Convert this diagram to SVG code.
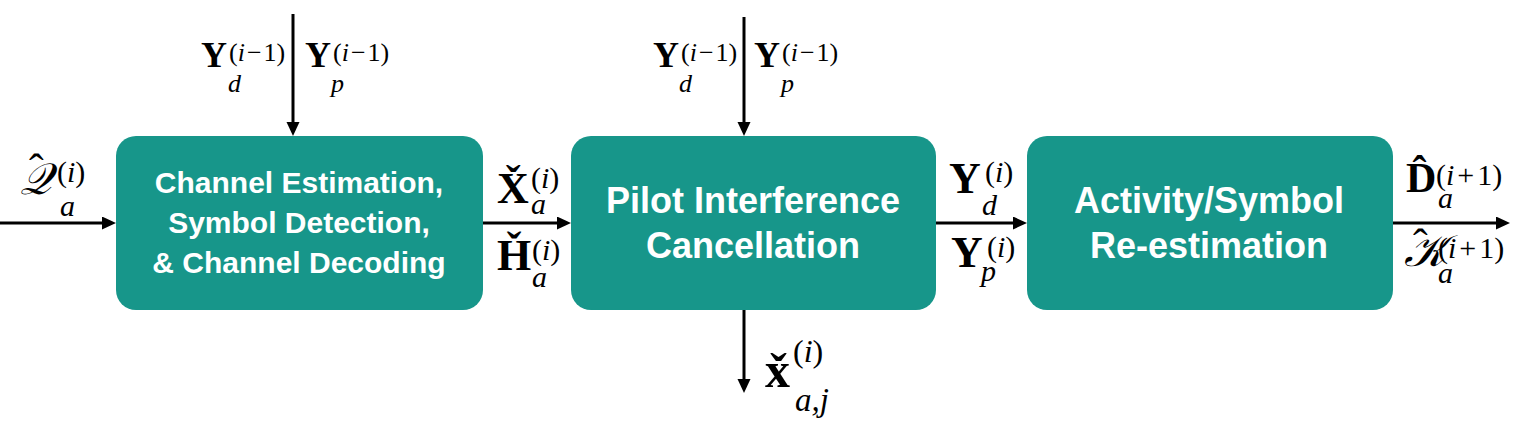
<svg xmlns="http://www.w3.org/2000/svg" width="1513" height="432" viewBox="0 0 1513 432">
<style>
.box{fill:#17968a;}
.bt{font-family:"Liberation Sans",Arial,sans-serif;font-weight:bold;fill:#ffffff;text-anchor:middle;}
.b1{font-size:30px;}
.b2{font-size:36px;}
.m{font-family:"Liberation Serif","Times New Roman",serif;fill:#000000;}
.bf{font-weight:bold;}
.it{font-style:italic;}
.cal{font-family:"DejaVu Serif","DejaVu Sans","Liberation Serif",serif;font-style:italic;}
.mt{font-size:36px;}
.ms{font-size:26px;}
.ml{font-size:44px;}
.mss{font-size:30px;}
.conn{stroke:#000000;stroke-width:3;fill:none;}
</style>
<defs>
<marker id="ah" markerUnits="userSpaceOnUse" markerWidth="16" markerHeight="14" refX="8" refY="6.5" orient="auto">
<path d="M0,0 L14,6.5 L0,13 z" fill="#000000"/>
</marker>
</defs>

<g id="connectors">
<line class="conn" x1="0" y1="223" x2="110" y2="223" marker-end="url(#ah)"/>
<line class="conn" x1="483" y1="223" x2="565" y2="223" marker-end="url(#ah)"/>
<line class="conn" x1="936" y1="223" x2="1021" y2="223" marker-end="url(#ah)"/>
<line class="conn" x1="1393" y1="223" x2="1504" y2="223" marker-end="url(#ah)"/>
<line class="conn" x1="293" y1="14" x2="293" y2="130" marker-end="url(#ah)"/>
<line class="conn" x1="744" y1="17" x2="744" y2="130" marker-end="url(#ah)"/>
<line class="conn" x1="744" y1="310" x2="744" y2="387" marker-end="url(#ah)"/>
</g>

<g id="node-channel-estimation">
<rect class="box" x="116" y="136" width="367" height="174" rx="20" ry="20"/>
<text class="bt b1" x="299" y="193">Channel Estimation,</text>
<text class="bt b1" x="299" y="233">Symbol Detection,</text>
<text class="bt b1" x="299" y="273">&amp; Channel Decoding</text>
</g>

<g id="node-pilot-interference">
<rect class="box" x="571" y="136" width="365" height="174" rx="20" ry="20"/>
<text class="bt b2" x="753" y="213">Pilot Interference</text>
<text class="bt b2" x="753" y="258">Cancellation</text>
</g>

<g id="node-activity">
<rect class="box" x="1027" y="136" width="366" height="174" rx="20" ry="20"/>
<text class="bt b2" x="1209" y="213">Activity/Symbol</text>
<text class="bt b2" x="1209" y="258">Re-estimation</text>
</g>

<g id="labels">
<!-- top left pair -->
<text class="m" x="201" y="67"><tspan class="bf mt">Y</tspan><tspan class="ms" x="229" y="61">(</tspan><tspan class="ms it">i</tspan><tspan class="ms" dx="2">−</tspan><tspan class="ms" dx="2">1)</tspan><tspan class="ms it" x="228" y="92">d</tspan></text>
<text class="m" x="305" y="67"><tspan class="bf mt">Y</tspan><tspan class="ms" x="333" y="61">(</tspan><tspan class="ms it">i</tspan><tspan class="ms" dx="2">−</tspan><tspan class="ms" dx="2">1)</tspan><tspan class="ms it" x="331" y="92">p</tspan></text>
<!-- top middle pair -->
<text class="m" x="653" y="67"><tspan class="bf mt">Y</tspan><tspan class="ms" x="681" y="61">(</tspan><tspan class="ms it">i</tspan><tspan class="ms" dx="2">−</tspan><tspan class="ms" dx="2">1)</tspan><tspan class="ms it" x="679" y="92">d</tspan></text>
<text class="m" x="754" y="67"><tspan class="bf mt">Y</tspan><tspan class="ms" x="782" y="61">(</tspan><tspan class="ms it">i</tspan><tspan class="ms" dx="2">−</tspan><tspan class="ms" dx="2">1)</tspan><tspan class="ms it" x="781" y="92">p</tspan></text>

<!-- Q hat -->
<text class="m" x="29" y="184"><tspan class="ml">ˆ</tspan><tspan class="cal ml" x="20" y="194">𝒬</tspan><tspan class="mss" x="57" y="182">(</tspan><tspan class="mss it">i</tspan><tspan class="mss">)</tspan><tspan class="mss it" x="60" y="216">a</tspan></text>

<!-- X check / H check -->
<text class="m" x="497" y="203"><tspan class="bf ml">X̌</tspan><tspan class="mss" x="531" y="188">(</tspan><tspan class="mss it">i</tspan><tspan class="mss">)</tspan><tspan class="mss it" x="531" y="214">a</tspan></text>
<text class="m" x="497" y="270"><tspan class="bf ml">Ȟ</tspan><tspan class="mss" x="532" y="260">(</tspan><tspan class="mss it">i</tspan><tspan class="mss">)</tspan><tspan class="mss it" x="532" y="287">a</tspan></text>

<!-- Y_d^(i), Y_p^(i) -->
<text class="m" x="949" y="193"><tspan class="bf ml">Y</tspan><tspan class="mss" x="985" y="182">(</tspan><tspan class="mss it">i</tspan><tspan class="mss">)</tspan><tspan class="mss it" x="982" y="215">d</tspan></text>
<text class="m" x="951" y="267"><tspan class="bf ml">Y</tspan><tspan class="mss" x="987" y="257">(</tspan><tspan class="mss it">i</tspan><tspan class="mss">)</tspan><tspan class="mss it" x="981" y="281">p</tspan></text>

<!-- D hat, K hat -->
<text class="m" x="1406" y="192"><tspan class="bf" font-size="42">D̂</tspan><tspan class="mss" x="1436" y="185">(</tspan><tspan class="mss it">i</tspan><tspan class="mss" dx="3">+</tspan><tspan class="mss" dx="3">1)</tspan><tspan class="mss it" x="1438" y="208">a</tspan></text>
<text class="m" x="1413" y="259"><tspan class="ml">ˆ</tspan><tspan class="cal ml" x="1404" y="266">𝒦</tspan><tspan class="mss" x="1438" y="258">(</tspan><tspan class="mss it">i</tspan><tspan class="mss" dx="3">+</tspan><tspan class="mss" dx="3">1)</tspan><tspan class="mss it" x="1438" y="283">a</tspan></text>

<!-- x check a,j -->
<text class="m" x="765" y="387"><tspan class="bf" font-size="50">x̌</tspan><tspan font-size="32" x="793" y="362">(</tspan><tspan font-size="32" class="it">i</tspan><tspan font-size="32">)</tspan><tspan font-size="33" class="it" x="795" y="411">a,j</tspan></text>
</g>
</svg>
